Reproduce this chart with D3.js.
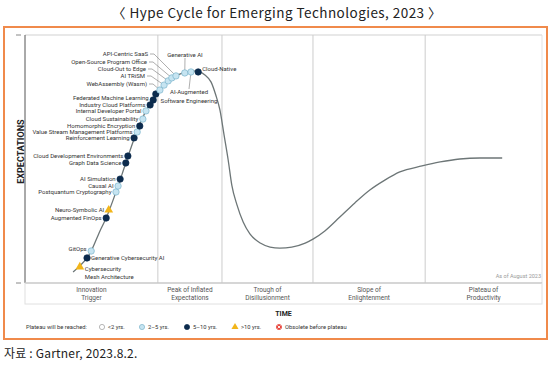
<!DOCTYPE html>
<html>
<head>
<meta charset="utf-8">
<script src="https://cdn.jsdelivr.net/npm/d3@7"></script>
<style>
  body { margin: 0; background: #fff; }
  text { font-family: Roboto, "Noto Sans", sans-serif; }
</style>
</head>
<body>
<svg width="554" height="366"></svg>
<script>
// hype curve, time (0-100) vs expectations (0-100)
const curveX = [9.3, 10.6, 12.0, 12.8, 14.5, 15.7, 17.6, 19.5, 21.1, 23.4, 24.8, 26.1, 28.0, 29.6, 30.9, 32.5, 33.7, 34.8, 36.0, 36.9, 37.7, 38.5, 39.3, 40.0, 41.0, 42.2, 43.5, 45.5, 47.4, 49.3, 51.6, 54.2, 55.7, 58.0, 60.9, 63.8, 66.7, 69.6, 72.5, 76.8, 80.3, 84.1, 88.0, 92.3];
const curveY = [4.4, 6.9, 10.1, 12.9, 21.0, 26.2, 36.7, 48.4, 58.1, 69.4, 73.8, 77.8, 81.7, 83.9, 84.9, 85.5, 85.1, 83.9, 81.0, 75.8, 69.8, 59.7, 49.6, 39.5, 31.5, 24.6, 19.8, 16.1, 14.5, 14.1, 14.5, 16.1, 17.7, 21.0, 26.6, 32.3, 37.5, 41.5, 44.8, 47.2, 48.8, 50.0, 50.4, 50.4];

// technologies on the curve
const techNames = ["Cybersecurity Mesh Architecture", "Generative Cybersecurity AI", "GitOps", "Augmented FinOps", "Neuro-Symbolic AI", "Postquantum Cryptography", "Causal AI", "AI Simulation", "Graph Data Science", "Cloud Development Environments", "Reinforcement Learning", "Value Stream Management Platforms", "Homomorphic Encryption", "Cloud Sustainability", "Internal Developer Portal", "Industry Cloud Platforms", "Federated Machine Learning", "", "WebAssembly (Wasm)", "AI TRiSM", "Cloud-Out to Edge", "Open-Source Program Office", "API-Centric SaaS", "Generative AI", "AI-Augmented Software Engineering", "Cloud-Native"];
const techX = [10.6, 12.0, 12.8, 15.7, 16.2, 17.6, 18.0, 18.4, 19.5, 19.9, 21.1, 21.7, 22.2, 22.8, 23.4, 24.2, 24.8, 25.3, 26.1, 26.9, 27.7, 28.4, 29.2, 30.9, 32.1, 33.5];
const techY = [6.5, 10.1, 12.9, 26.2, 29.4, 36.7, 39.1, 41.9, 48.4, 51.2, 58.5, 60.9, 63.3, 66.1, 69.4, 71.8, 73.8, 76.2, 77.8, 79.8, 81.5, 82.7, 83.5, 84.7, 85.1, 85.1];
// plateau group: 0 <2, 1 2-5, 2 5-10, 3 >10, 4 obsolete
const techGroup = [3, 2, 1, 2, 3, 1, 1, 2, 2, 2, 2, 1, 2, 1, 1, 2, 2, 2, 1, 1, 1, 1, 1, 1, 1, 2];

const phaseNames = [["Innovation", "Trigger"], ["Peak of Inflated", "Expectations"], ["Trough of", "Disillusionment"], ["Slope of", "Enlightenment"], ["Plateau of", "Productivity"]];
const phaseEnds = [0, 25.7, 38.1, 55.7, 77.4, 100];
const legendLabels = ["<2 yrs.", "2\u20135 yrs.", "5\u201310 yrs.", ">10 yrs.", "Obsolete before plateau"];

// label layout (pixels / offsets)
const labelLayout = {
  "Cybersecurity Mesh Architecture": { side: "right", dx: 5, dy: 2, lines: ["Cybersecurity", "Mesh Architecture"] },
  "Generative Cybersecurity AI": { side: "right", dx: 4, dy: 0 },
  "GitOps": { side: "left", dy: -2 },
  "Federated Machine Learning": { side: "left", dy: -2 },
  "WebAssembly (Wasm)": { side: "leader", lx: 147, ly: 84 },
  "AI TRiSM": { side: "leader", lx: 145, ly: 76 },
  "Cloud-Out to Edge": { side: "leader", lx: 146, ly: 69 },
  "Open-Source Program Office": { side: "leader", lx: 147, ly: 62 },
  "API-Centric SaaS": { side: "leader", lx: 148, ly: 54 },
  "Generative AI": { side: "top", lx: 185, ly: 55 },
  "AI-Augmented Software Engineering": { side: "below", lx: 189, ly: 92, lines: ["AI-Augmented", "Software Engineering"] },
  "Cloud-Native": { side: "right", dx: 4, dy: -3 }
};

const colors = {
  fill: ["#ffffff", "#c6e4f1", "#0c2b4d", "#f2b519", "#e8453c"],
  stroke: ["#9a9a9a", "#7db4cc", "#0c2b4d", "#f2b519", "#e8453c"]
};

const svg = d3.select("svg");
const x = d3.scaleLinear().domain([0, 100]).range([25, 542]);
const y = d3.scaleLinear().domain([0, 100]).range([283, 35]);

// title
svg.append("text")
  .attr("x", 277).attr("y", 18)
  .attr("text-anchor", "middle")
  .style("font-family", "'Noto Sans CJK KR', sans-serif")
  .style("font-size", "13.5px")
  .style("letter-spacing", "0.45px")
  .attr("fill", "#222")
  .text("\u3008 Hype Cycle for Emerging Technologies, 2023 \u3009");

// orange frame
svg.append("rect")
  .attr("x", 4).attr("y", 27).attr("width", 543).attr("height", 312)
  .attr("fill", "none").attr("stroke", "#f08a4b").attr("stroke-width", 2);

const g = svg.append("g");

// plot frame
g.append("line").attr("x1", x(0)).attr("x2", x(100)).attr("y1", y(100)).attr("y2", y(100))
  .attr("stroke", "#e8e8e8").attr("stroke-width", 2);
g.append("line").attr("x1", x(100)).attr("x2", x(100)).attr("y1", y(100)).attr("y2", y(0))
  .attr("stroke", "#e3e3e3");
g.selectAll(".divider")
  .data(phaseEnds.slice(1, -1))
  .enter().append("line")
  .attr("x1", d => x(d)).attr("x2", d => x(d))
  .attr("y1", y(100)).attr("y2", y(0))
  .attr("stroke", "#cccccc");

// axes
g.append("line").attr("x1", x(0)).attr("x2", x(0)).attr("y1", y(100)).attr("y2", y(0))
  .attr("stroke", "#555");
g.append("line").attr("x1", x(0)).attr("x2", x(100)).attr("y1", y(0)).attr("y2", y(0))
  .attr("stroke", "#999");
g.selectAll(".etick")
  .data([0, 100])
  .enter().append("line")
  .attr("x1", 16).attr("x2", 21)
  .attr("y1", d => y(d)).attr("y2", d => y(d))
  .attr("stroke", "#888");

// phase label box
g.append("rect")
  .attr("x", x(0)).attr("y", y(0)).attr("width", x(100) - x(0)).attr("height", 21)
  .attr("fill", "none").attr("stroke", "#e0e0e0");
const ph = g.selectAll(".phase")
  .data(phaseNames)
  .enter().append("text")
  .attr("text-anchor", "middle")
  .style("font-size", "6.5px")
  .attr("fill", "#555");
ph.each(function (d, i) {
  const cx = (x(phaseEnds[i]) + x(phaseEnds[i + 1])) / 2;
  d3.select(this).selectAll("tspan")
    .data(d).enter().append("tspan")
    .attr("x", cx)
    .attr("y", (t, j) => y(0) + 9 + j * 8)
    .text(t => t);
});

g.append("text")
  .attr("x", (x(0) + x(100)) / 2).attr("y", 316)
  .attr("text-anchor", "middle")
  .style("font-size", "7px").style("font-weight", "bold")
  .attr("fill", "#222")
  .text("TIME");

g.append("text")
  .attr("transform", "translate(24," + y(53) + ") rotate(-90)")
  .attr("text-anchor", "middle")
  .style("font-size", "9px").style("font-weight", "bold")
  .attr("fill", "#222")
  .text("EXPECTATIONS");

g.append("text")
  .attr("x", x(100) - 1).attr("y", y(0) - 5)
  .attr("text-anchor", "end")
  .style("font-size", "5.5px")
  .attr("fill", "#999")
  .text("As of August 2023");

// curve
const curvePts = curveX.map((d, i) => [d, curveY[i]]);
const line = d3.line()
  .x(d => x(d[0]))
  .y(d => y(d[1]))
  .curve(d3.curveMonotoneX);
g.append("path")
  .datum(curvePts)
  .attr("fill", "none")
  .attr("stroke", "#6d7677")
  .attr("stroke-width", 1.3)
  .attr("d", line);

const techs = techNames.map((n, i) => ({ name: n, t: techX[i], e: techY[i], grp: techGroup[i] }));

// leader lines
techs.forEach(d => {
  const L = labelLayout[d.name];
  if (!L) return;
  const px = x(d.t), py = y(d.e);
  if (L.side === "leader") {
    g.append("path")
      .attr("d", "M" + (L.lx + 2) + "," + (L.ly) + "H" + (L.lx + 6) + "L" + px + "," + py)
      .attr("fill", "none").attr("stroke", "#777").attr("stroke-width", 0.6);
  } else if (L.side === "top") {
    g.append("line").attr("x1", L.lx).attr("y1", L.ly + 3).attr("x2", px).attr("y2", py)
      .attr("stroke", "#777").attr("stroke-width", 0.6);
  } else if (L.side === "below") {
    g.append("line").attr("x1", L.lx).attr("y1", L.ly - 3).attr("x2", px).attr("y2", py)
      .attr("stroke", "#777").attr("stroke-width", 0.6);
  }
});

// markers
function drawMarker(sel, grp, r) {
  if (grp === 3) {
    sel.append("path")
      .attr("d", d3.symbol().type(d3.symbolTriangle).size(r * r * 3.2)())
      .attr("fill", colors.fill[3]);
  } else {
    sel.append("circle").attr("r", r)
      .attr("fill", colors.fill[grp])
      .attr("stroke", colors.stroke[grp]).attr("stroke-width", 0.7);
    if (grp === 4) {
      sel.append("path")
        .attr("d", "M-1.4,-1.4L1.4,1.4M1.4,-1.4L-1.4,1.4")
        .attr("stroke", "#fff").attr("stroke-width", 0.9);
    }
  }
}

techs.forEach(d => {
  const m = g.append("g").attr("transform", "translate(" + x(d.t) + "," + y(d.e) + ")");
  drawMarker(m, d.grp, 3.2);
});

// labels
techs.forEach(d => {
  if (!d.name) return;
  const px = x(d.t), py = y(d.e);
  const L = labelLayout[d.name] || { side: "left", dy: 0 };
  const txt = g.append("text")
    .style("font-size", "6px")
    .attr("fill", "#333");
  let lines = L.lines || [d.name];
  let tx, ty, anchor;
  if (L.side === "left") { tx = px - 4.5; ty = py + (L.dy || 0) + 2; anchor = "end"; }
  else if (L.side === "right") { tx = px + L.dx; ty = py + L.dy + 2; anchor = "start"; }
  else if (L.side === "leader") { tx = L.lx; ty = L.ly + 2; anchor = "end"; }
  else { tx = L.lx; ty = L.ly + 2; anchor = "middle"; }
  txt.attr("text-anchor", anchor);
  txt.selectAll("tspan").data(lines).enter().append("tspan")
    .attr("x", tx).attr("y", (t, j) => ty + j * 8.5)
    .text(t => t);
});

// legend
const lg = svg.append("g").attr("transform", "translate(26,327)");
lg.append("text").attr("x", 0).attr("y", 2)
  .style("font-size", "5.8px").attr("fill", "#333")
  .text("Plateau will be reached:");
const legendX = [76, 116, 161, 209, 253];
legendLabels.forEach((lab, i) => {
  const it = lg.append("g").attr("transform", "translate(" + legendX[i] + ",0)");
  drawMarker(it.append("g"), i, 2.6);
  it.append("text").attr("x", 6).attr("y", 2)
    .style("font-size", "5.8px").attr("fill", "#333")
    .text(lab);
});

// source
svg.append("text")
  .attr("x", 4).attr("y", 358)
  .style("font-family", "'Noto Sans CJK KR', sans-serif")
  .style("font-size", "12px")
  .style("letter-spacing", "0.2px")
  .attr("fill", "#222")
  .text("\uc790\ub8cc : Gartner, 2023.8.2.");
</script>
</body>
</html>
